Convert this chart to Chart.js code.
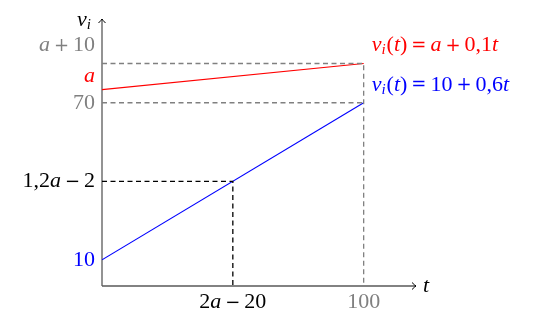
<!DOCTYPE html><html><head><meta charset="utf-8"><title>v_i(t)</title>
<script src="https://cdn.jsdelivr.net/npm/chart.js"></script>
<style>
  body { margin: 0; background: #ffffff; }
  .wrap { position: relative; width: 551px; height: 322px; }
</style>
</head>
<body>
<div class="wrap"><canvas id="chart"></canvas></div>
<script>
// data (t on x, v_i on y)
const tEnds = [0, 100];
const redVals = [75, 85];      // v_i(t) = a + 0,1t  (a ~ 75 in the sketch)
const blueVals = [10, 70];     // v_i(t) = 10 + 0,6t
const tMeet = 50;              // 2a - 20
const vMeet = 40;              // 1,2a - 2
const tMax = 120;
const vMax = 102;

const RED = '#ff0000', BLUE = '#0000ff', GRAY = '#808080', BLACK = '#000000';
const FONT = '"Liberation Serif", "DejaVu Serif", serif';
const OP_FONT = '"DejaVu Serif", serif';
const SIZE = 22;

// segment kinds: 0 roman, 1 italic, 2 italic subscript, 3 binary operator (padded)
const yLabels = [
  { v: 85, dy: -18, color: GRAY, segs: [['a', 1], ['+', 3], ['10', 0]] },
  { v: 75, dy: -13, color: RED, segs: [['a', 1]] },
  { v: 70, dy: 0, color: GRAY, segs: [['70', 0]] },
  { v: 40, dy: 0, color: BLACK, segs: [['1,2', 0], ['a', 1], ['−', 3], ['2', 0]] },
  { v: 10, dy: 0, color: BLUE, segs: [['10', 0]] }
];
const xLabels = [
  { v: 50, color: BLACK, segs: [['2', 0], ['a', 1], ['−', 3], ['20', 0]] },
  { v: 100, color: GRAY, segs: [['100', 0]] }
];
const eqLabels = [
  { v: 85, dy: -18, color: RED, segs: [['v', 1], ['i', 2], ['(', 0], ['t', 1], [')', 0], ['=', 3], ['a', 1], ['+', 3], ['0,1', 0], ['t', 1]] },
  { v: 70, dy: -18, color: BLUE, segs: [['v', 1], ['i', 2], ['(', 0], ['t', 1], [')', 0], ['=', 3], ['10', 0], ['+', 3], ['0,6', 0], ['t', 1]] }
];
const OP_PAD = 4;

function segFont(kind) {
  if (kind === 3) return '18px ' + OP_FONT;
  if (kind === 2) return 'italic 15px ' + FONT;
  if (kind === 1) return 'italic ' + SIZE + 'px ' + FONT;
  return SIZE + 'px ' + FONT;
}

function segWidth(ctx, s) {
  ctx.font = segFont(s[1]);
  return ctx.measureText(s[0]).width + (s[1] === 3 ? 2 * OP_PAD : 0) + (s[1] === 2 ? 1 : 0);
}

function drawRich(ctx, segs, x, y, align, color) {
  const w = segs.reduce((sum, s) => sum + segWidth(ctx, s), 0);
  let cx = align === 'right' ? x - w : align === 'center' ? x - w / 2 : x;
  ctx.fillStyle = color;
  ctx.textBaseline = 'middle';
  ctx.textAlign = 'left';
  segs.forEach(s => {
    const sw = segWidth(ctx, s);
    ctx.font = segFont(s[1]);
    ctx.fillText(s[0], cx + (s[1] === 3 ? OP_PAD : 0), s[1] === 2 ? y + 5 : (s[1] === 3 ? y + 1 : y));
    cx += sw;
  });
}

function arrowHead(ctx, x, y, dir) {
  ctx.save();
  ctx.translate(x, y);
  ctx.rotate(dir);
  ctx.strokeStyle = BLACK;
  ctx.lineWidth = 1;
  ctx.beginPath();
  ctx.moveTo(-4, -3.5);
  ctx.quadraticCurveTo(-1, -0.5, 0, 0);
  ctx.quadraticCurveTo(-1, 0.5, -4, 3.5);
  ctx.stroke();
  ctx.restore();
}

const axesPlugin = {
  id: 'axesPlugin',
  beforeDatasetsDraw(chart) {
    const ctx = chart.ctx, a = chart.chartArea;
    const x0 = chart.scales.x.getPixelForValue(0), y0 = chart.scales.y.getPixelForValue(0);
    ctx.save();
    ctx.strokeStyle = '#5a5a5a';
    ctx.lineWidth = 1.3;
    ctx.beginPath();
    ctx.moveTo(x0, y0); ctx.lineTo(x0, a.top);
    ctx.moveTo(x0, y0); ctx.lineTo(a.right, y0);
    ctx.stroke();
    ctx.restore();
  },
  afterDatasetsDraw(chart) {
    const ctx = chart.ctx, a = chart.chartArea;
    const xs = chart.scales.x, ys = chart.scales.y;
    const x0 = xs.getPixelForValue(0), y0 = ys.getPixelForValue(0);
    ctx.save();
    arrowHead(ctx, x0, a.top, -Math.PI / 2);
    arrowHead(ctx, a.right, y0, 0);
    yLabels.forEach(l => drawRich(ctx, l.segs, x0 - 7, ys.getPixelForValue(l.v) + l.dy, 'right', l.color));
    xLabels.forEach(l => drawRich(ctx, l.segs, xs.getPixelForValue(l.v), y0 + 16, 'center', l.color));
    eqLabels.forEach(l => drawRich(ctx, l.segs, xs.getPixelForValue(100) + 8, ys.getPixelForValue(l.v) + l.dy, 'left', l.color));
    drawRich(ctx, [['t', 1]], a.right + 7, y0, 'left', BLACK);
    drawRich(ctx, [['v', 1], ['i', 2]], x0 - 25, a.top + 1, 'left', BLACK);
    ctx.restore();
  }
};

const dashed = (pts, color) => ({
  data: pts, borderColor: color, borderWidth: 1.3, borderDash: [5, 3.5],
  pointRadius: 0, fill: false, tension: 0
});

new Chart(document.getElementById('chart'), {
  type: 'line',
  data: {
    datasets: [
      dashed([{ x: 0, y: redVals[1] }, { x: tEnds[1], y: redVals[1] }, { x: tEnds[1], y: 0 }], GRAY),
      dashed([{ x: 0, y: blueVals[1] }, { x: tEnds[1], y: blueVals[1] }], GRAY),
      dashed([{ x: 0, y: vMeet }, { x: tMeet, y: vMeet }, { x: tMeet, y: 0 }], BLACK),
      { data: tEnds.map((t, i) => ({ x: t, y: redVals[i] })), borderColor: RED, borderWidth: 1.1, pointRadius: 0, tension: 0 },
      { data: tEnds.map((t, i) => ({ x: t, y: blueVals[i] })), borderColor: BLUE, borderWidth: 1.1, pointRadius: 0, tension: 0 }
    ]
  },
  options: {
    responsive: true,
    maintainAspectRatio: false,
    animation: false,
    layout: { padding: { left: 102, right: 135, top: 19, bottom: 36 } },
    scales: {
      x: { type: 'linear', min: 0, max: tMax, display: false },
      y: { type: 'linear', min: 0, max: vMax, display: false }
    },
    plugins: { legend: { display: false }, tooltip: { enabled: false } }
  },
  plugins: [axesPlugin]
});
</script>
</body></html>
